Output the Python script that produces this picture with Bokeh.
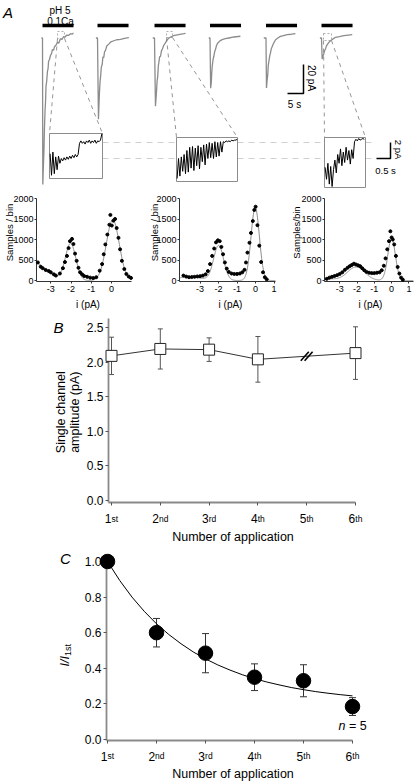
import math
import numpy as np
from bokeh.plotting import figure
from bokeh.models import (Range1d, FixedTicker, PrintfTickFormatter,
                          Whisker, ColumnDataSource, TeeHead)
from bokeh.core.properties import value
from bokeh.layouts import column, row
from bokeh.embed import file_html
from bokeh.resources import INLINE

FONT = "Liberation Sans"

# ===================== DATA =====================
# Panel A: whole-cell currents, 6 successive applications of pH 5 / 0.1Ca
application_s = 9.7
tr1_t = [-0.35, 0.0, 0.1, 0.25, 0.45, 0.6, 0.8, 0.95, 1.1, 1.3, 1.55, 1.75, 1.9, 2.15, 2.5, 2.8, 3.1, 3.45, 3.75, 4.2, 4.7, 5.1, 5.6, 6.1, 6.6, 7.0, 7.5, 8.1, 8.75, 9.2, 9.7]
tr1_i = [0, 0, -101, -90, -78, -63, -50, -44, -33, -30, -23, -21, -16, -15, -12, -11, -8, -8.5, -6, -5, -3, -3.5, -0.5, -1, 1, 0.5, 2, 1.8, 3, 2.6, 3.5]
tr2_t = [-0.5, 0.0, 0.3, 0.6, 0.8, 0.95, 1.2, 1.45, 1.7, 1.95, 2.2, 2.5, 2.9, 3.5, 4.2, 5.1, 6.0, 7.2, 8.4, 9.8]
tr2_i = [0, 0, -56, -38, -30, -27, -20, -18.5, -13, -13.5, -9.5, -8.5, -5.5, -4.2, -2.6, -1.9, -1.2, -0.9, -0.3, 0.3]
tr3_t = [-0.55, 0.0, 0.3, 0.6, 0.8, 1.0, 1.2, 1.35, 1.6, 1.9, 2.15, 2.4, 2.9, 3.4, 3.9, 4.5, 5.2, 6.0, 7.5, 9.2, 9.7]
tr3_i = [0, 0, -47, -38, -30, -26.6, -19, -17.2, -13, -12.6, -9, -8, -5, -3.4, -1.5, 0, 0.8, 1.7, 2.4, 3.0, 3.2]
tr4_t = [-0.4, 0.0, 0.2, 0.4, 0.55, 0.7, 0.95, 1.2, 1.45, 1.7, 2.05, 2.45, 3.1, 3.8, 4.8, 5.9, 7.5, 9.5]
tr4_i = [0, 0, -34.6, -31, -24, -19.5, -15, -12.6, -9.5, -8, -5, -3.4, -2, -1.1, -0.5, 0, 0.7, 1.2]
tr5_t = [-0.7, 0.0, 0.15, 0.35, 0.55, 0.7, 0.9, 1.15, 1.4, 1.65, 1.95, 2.4, 3.0, 3.7, 4.5, 5.5, 6.6, 8.0, 9.2]
tr5_i = [0, 0, -34.5, -29, -25.3, -19, -16.1, -12.5, -10.3, -7.5, -5.8, -3.5, -1.2, 0, 1.1, 1.7, 2.3, 2.6, 3.0]
tr6_t = [-0.5, 0.0, 0.2, 0.45, 0.7, 1.0, 1.25, 1.5, 1.8, 2.3, 2.8, 3.5, 4.4, 5.6, 7.0, 8.3, 9.6]
tr6_i = [0, 0, -14.5, -12.5, -11, -8.5, -7.6, -5.8, -4.6, -3, -1.9, -0.8, 0.5, 1.0, 1.6, 2.0, 2.3]

# expanded single-channel segments (pA), sampled every inset_dt seconds
inset_dt = 0.05
unitary_pA = 2.0
inset1_i = [-1.4, -4.1, -1.2, -3.9, -1.8, -3.4, -1.7,
            -2.6, -2.0, -2.3, -1.9, -2.2, -1.8, -2.1, -1.7, -2.0, -1.6, -1.9, -1.5, -1.8, -1.5,
            -0.1, 0.2, -0.1, 0.1, -0.2, 0.2, 0.0, 0.3, -0.1, 0.2, 0.0, 0.3, -0.1, 0.2, 0.1, 0.3, 1.1]
inset2_i = [-4.5, -2.0, -4.2, -1.8, -3.6, -1.5, -3.9,
            -1.0, -3.7, -0.6, -3.2, -0.5, -3.5, -0.7, -2.9, -0.4, -3.3, -0.6, -2.4, -0.3, -2.8,
            -0.2, -2.0, 0.0, -1.9, -0.1, -2.0, 0.1, -1.8, 0.0, -1.7, 0.1, -1.2, 0.1,
            0.0, 0.2, 0.1, 0.2, 0.1, 0.3, 0.2, 0.3, 0.3, 0.4]
inset3_i = [-3.1, -4.6, -2.6, -5.2, -3.0, -5.5, -3.4,
            -2.2, -3.8, -1.5,
            -2.6, -0.8, -2.9, -1.2, -2.5, -0.6, -2.2, -1.0, -2.7, -0.9, -2.0,
            0.1, 0.4, 0.2, 0.5, 0.3, 0.4, 0.5, 0.4]

# all-point amplitude histograms (i in pA, samples per bin)
h1_x = [-3.64, -3.5, -3.4, -3.25, -3.1, -3.0, -2.85, -2.75, -2.55, -2.4, -2.3, -2.2, -2.12, -2.05, -1.95, -1.88, -1.8, -1.72, -1.63, -1.55, -1.45, -1.35, -1.2, -1.05, -0.9, -0.75, -0.58, -0.46, -0.38, -0.3, -0.2, -0.1, -0.05, 0.02, 0.1, 0.18, 0.26, 0.35, 0.43, 0.52, 0.64, 0.74, 0.86, 0.97]
h1_y = [440, 336, 300, 256, 230, 200, 150, 120, 170, 300, 450, 600, 790, 960, 1015, 890, 656, 480, 310, 200, 150, 110, 90, 70, 60, 80, 240, 400, 640, 880, 1120, 1360, 1600, 1340, 1460, 1500, 1280, 1040, 760, 480, 280, 160, 96, 64]
h2_x = [-3.9, -3.75, -3.6, -3.45, -3.3, -3.15, -3.0, -2.85, -2.7, -2.58, -2.46, -2.35, -2.24, -2.14, -2.04, -1.94, -1.85, -1.76, -1.66, -1.56, -1.45, -1.3, -1.15, -1.0, -0.85, -0.72, -0.6, -0.52, -0.44, -0.33, -0.25, -0.15, -0.07, 0.0, 0.1, 0.2, 0.3, 0.4, 0.5, 0.6]
h2_y = [120, 95, 80, 85, 90, 100, 105, 120, 150, 230, 400, 600, 780, 930, 980, 960, 820, 640, 440, 290, 210, 170, 160, 160, 170, 200, 260, 440, 680, 920, 1160, 1450, 1720, 1800, 1350, 850, 450, 200, 80, 30]
h3_x = [-3.75, -3.6, -3.45, -3.3, -3.15, -3.0, -2.85, -2.7, -2.55, -2.42, -2.3, -2.18, -2.06, -1.94, -1.82, -1.7, -1.58, -1.45, -1.3, -1.15, -1.0, -0.85, -0.7, -0.57, -0.45, -0.35, -0.25, -0.15, -0.07, 0.0, 0.07, 0.15, 0.25, 0.35, 0.45, 0.55, 0.65]
h3_y = [40, 70, 90, 110, 130, 160, 200, 260, 310, 350, 380, 410, 390, 370, 350, 300, 250, 210, 190, 180, 180, 190, 200, 250, 360, 540, 760, 960, 1200, 1050, 1000, 880, 600, 330, 170, 70, 20]
# Gaussian fit components (mean pA, sd pA, amplitude)
h1_fit = [(-4.0, 0.7, 480), (-2.02, 0.255, 900), (0.07, 0.32, 1480)]
h2_fit = [(-3.6, 0.7, 85), (-2.0, 0.27, 850), (-0.02, 0.225, 1780)]
h3_fit = [(-3.8, 0.6, 40), (-2.05, 0.5, 330), (0.0, 0.22, 1020)]

# Panel B: single channel amplitude
app_labels = ["1st", "2nd", "3rd", "4th", "5th", "6th"]
b_app = [1, 2, 3, 4, 6]
b_mean = [2.09, 2.19, 2.18, 2.04, 2.13]
b_sem = [0.27, 0.29, 0.17, 0.33, 0.38]

# Panel C: I / I1st
c_app = [1, 2, 3, 4, 5, 6]
c_mean = [1.0, 0.60, 0.485, 0.35, 0.33, 0.185]
c_sem = [0.0, 0.08, 0.11, 0.075, 0.09, 0.05]
c_fit_x = [1.0, 1.25, 1.5, 1.75, 2.0, 2.25, 2.5, 2.75, 3.0, 3.25, 3.5, 3.75, 4.0, 4.25, 4.5, 4.75, 5.0, 5.25, 5.5, 5.75, 6.0]
c_fit_y = [1.0, 0.893, 0.8, 0.72, 0.65, 0.59, 0.538, 0.492, 0.453, 0.419, 0.39, 0.364, 0.342, 0.323, 0.307, 0.292, 0.28, 0.269, 0.26, 0.252, 0.245]

# ===================== LAYOUT =====================
W, H = 420, 782
XB = [0, 140, 288, W]
YB = [0, 190, 312, 544, H]


def lin(r1, v1, r2, v2):
    k = (v2 - v1) / (r2 - r1)
    return lambda r: v1 + (r - r1) * k


def base_fig(px0, px1, py0, py1, frame, xmap, ymap):
    bl = max(0, round(frame[0] - px0))
    br = max(0, round(px1 - frame[1]))
    bt = max(0, round(frame[2] - py0))
    bb = max(0, round(py1 - frame[3]))
    fl, fr = px0 + bl, px1 - br
    ft, fb = py0 + bt, py1 - bb
    p = figure(width=px1 - px0, height=py1 - py0, output_backend="svg",
               toolbar_location=None, title=None,
               x_range=Range1d(xmap(fl), xmap(fr)), y_range=Range1d(ymap(fb), ymap(ft)),
               min_border_left=bl, min_border_right=br, min_border_top=bt,
               min_border_bottom=bb)
    p.frame_align = False
    p.xgrid.visible = False
    p.ygrid.visible = False
    p.outline_line_color = None
    p.background_fill_color = "white"
    p.border_fill_color = "white"
    return p


def lab(p, x, y, text, size, angle=0.0, align="center", baseline="alphabetic",
        style="normal", x_offset=0.0):
    p.text(x=[x], y=[y], text=[text], angle=angle, text_font=value(FONT),
           text_font_size=value(f"{size}px"), text_font_style=style,
           text_align=align, text_baseline=baseline, x_offset=x_offset,
           text_color="black", level="overlay")


# ---------------- Panel A (traces, in reference-pixel space) ----------------
TR_X = [42, 97, 154, 209.5, 265.5, 321]
TR_BASE_Y = 37.5
PX_PER_S, PX_PER_PA = 3.2, 1.45
BAR_Y = 25
INSETS = [(49, 133, 102, 178), (176, 137, 237, 181), (324, 137, 365, 187)]
ZOOMS = [(57, 31, 64, 38), (166, 31, 172, 37), (323, 33, 331, 40)]
LEVEL0_Y = 142
INSET_PX_PER_S, INSET_PX_PER_PA = 28, 8

pa = figure(width=W, height=YB[1], output_backend="svg", toolbar_location=None,
            title=None, x_range=Range1d(0, W), y_range=Range1d(YB[1], 0),
            min_border=0, min_border_left=0, min_border_right=0, min_border_top=0,
            min_border_bottom=0, x_axis_location=None, y_axis_location=None)
pa.frame_align = False
pa.xgrid.visible = False
pa.ygrid.visible = False
pa.outline_line_color = None

traces = [(tr1_t, tr1_i), (tr2_t, tr2_i), (tr3_t, tr3_i),
          (tr4_t, tr4_i), (tr5_t, tr5_i), (tr6_t, tr6_i)]
for ox, (tt, ii) in zip(TR_X, traces):
    xs = [ox + t * PX_PER_S for t in tt]
    ys = [TR_BASE_Y - v * PX_PER_PA for v in ii]
    pa.line(xs, ys, line_color="#8c8c8c", line_width=1.3)
    pa.segment(x0=[ox], y0=[BAR_Y], x1=[ox + application_s * PX_PER_S], y1=[BAR_Y],
               line_color="black", line_width=3.5, line_cap="butt")

for (zl, zt, zr, zb), (il, it, ir, ib) in zip(ZOOMS, INSETS):
    pa.quad(left=[zl], right=[zr], top=[zt], bottom=[zb], fill_color=None,
            line_color="#9a9a9a", line_width=0.8, line_dash="2 2")
    pa.segment(x0=[zl, zr], y0=[zb, zb], x1=[il, ir], y1=[it, it],
               line_color="#7a7a7a", line_width=0.8, line_dash="4 4")

lvl_y = [LEVEL0_Y, LEVEL0_Y + unitary_pA * INSET_PX_PER_PA]
gaps = [(INSETS[0][2], INSETS[1][0]), (INSETS[1][2], INSETS[2][0]), (INSETS[2][2], 372)]
for yv in lvl_y:
    pa.segment(x0=[g[0] for g in gaps], y0=[yv] * 3, x1=[g[1] for g in gaps], y1=[yv] * 3,
               line_color="#c4c4c4", line_width=0.8, line_dash="6 5")

for (il, it, ir, ib), ii in zip(INSETS, [inset1_i, inset2_i, inset3_i]):
    pa.quad(left=[il], right=[ir], top=[it], bottom=[ib], fill_color=None,
            line_color="#8c8c8c", line_width=1)
    xs = [il + 0.6 + k * inset_dt * INSET_PX_PER_S for k in range(len(ii))]
    ys = [LEVEL0_Y - v * INSET_PX_PER_PA for v in ii]
    pa.line(xs, ys, line_color="black", line_width=1)

SB1 = (303, 93)
pa.line([SB1[0] - 5 * PX_PER_S, SB1[0], SB1[0]], [SB1[1], SB1[1], SB1[1] - 20 * PX_PER_PA],
        line_color="black", line_width=1.5)
SB2 = (390, 158)
pa.line([SB2[0] - 0.5 * INSET_PX_PER_S, SB2[0], SB2[0]],
        [SB2[1], SB2[1], SB2[1] - 2 * INSET_PX_PER_PA], line_color="black", line_width=1.5)

lab(pa, 2.5, 12.3, "A", 15, style="italic", align="left")
lab(pa, 59.5, 10, "pH 5", 10)
lab(pa, 60, 21, "0.1Ca", 10)
lab(pa, 310.5, 77.5, "20 pA", 10, angle=-math.pi / 2, baseline="middle")
lab(pa, 294, 104, "5 s", 10)
lab(pa, 397.5, 149, "2 pA", 9.5, angle=-math.pi / 2, baseline="middle")
lab(pa, 385, 170, "0.5 s", 9.5)

# ---------------- histograms ----------------
hist_specs = [
    (XB[0], XB[1], (36, 131, 198, 281), lin(90.7, -1, 110.9, 0), h1_x, h1_y, h1_fit,
     "Samples / bin", 8.5, 87.5),
    (XB[1], XB[2], (179, 275, 198, 281), lin(236.6, -1, 255.1, 0), h2_x, h2_y, h2_fit,
     "Samples / bin", 154, 230),
    (XB[2], XB[3], (324.3, 413, 198, 281), lin(373.8, -1, 391.1, 0), h3_x, h3_y, h3_fit,
     "Samples/bin", 296, 370),
]
hists = []
for px0, px1, frame, xm, hx, hy, fit, ylab, ylab_x, xlab_x in hist_specs:
    ym = lin(280, 0, 198, 2000)
    p = base_fig(px0, px1, YB[1], YB[2], frame, xm, ym)
    xf = np.linspace(p.x_range.start, p.x_range.end, 300)
    yf = sum(a * np.exp(-0.5 * ((xf - m) / s) ** 2) for m, s, a in fit)
    p.line(xf, yf, line_color="#8c8c8c", line_width=1)
    p.scatter(hx, hy, size=3, marker="circle", fill_color="black", line_color="black",
              level="overlay")
    p.xaxis.ticker = FixedTicker(ticks=[-3, -2, -1, 0, 1])
    p.yaxis.ticker = FixedTicker(ticks=[0, 500, 1000, 1500, 2000])
    p.xaxis.formatter = PrintfTickFormatter(format="%d")
    p.yaxis.formatter = PrintfTickFormatter(format="%d")
    for ax in (p.xaxis[0], p.yaxis[0]):
        ax.major_label_text_font = FONT
        ax.major_label_text_font_size = "9px"
        ax.major_label_text_color = "black"
        ax.major_tick_out = 2
        ax.major_tick_in = 0
        ax.minor_tick_out = 0
        ax.minor_tick_in = 0
        ax.axis_line_color = "#333333"
        ax.major_tick_line_color = "#333333"
    p.yaxis.major_label_standoff = 1
    p.xaxis.major_label_standoff = 2
    lab(p, xm(ylab_x), ym(232), ylab, 9.5, angle=math.pi / 2)
    lab(p, xm(xlab_x), ym(303.5), "i (pA)", 10)
    hists.append(p)

# ---------------- Panel B ----------------
suffix_w = {"st": 6.6, "nd": 9.5, "rd": 7.6, "th": 7.1}
DIGIT_W = 6.7


def app_ticks(p, ym, base_ref):
    for v, t in zip(range(1, 7), app_labels):
        w = DIGIT_W + suffix_w[t[1:]]
        lab(p, v, ym(base_ref), t[0], 12, align="left", x_offset=-w / 2)
        lab(p, v, ym(base_ref), t[1:], 8.5, align="left", x_offset=-w / 2 + DIGIT_W)


def style_axes(p):
    for ax in (p.xaxis[0], p.yaxis[0]):
        ax.major_label_text_font = FONT
        ax.major_label_text_font_size = "12px"
        ax.major_label_text_color = "black"
        ax.major_tick_out = 3
        ax.major_tick_in = 0
        ax.minor_tick_out = 0
        ax.minor_tick_in = 0
        ax.axis_line_color = "#8a8a8a"
        ax.axis_line_width = 1.8
        ax.major_tick_line_color = "#555555"
    p.yaxis.major_label_standoff = 2
    p.xaxis.ticker = FixedTicker(ticks=list(range(1, 7)))
    p.xaxis.major_label_overrides = {i: "" for i in range(1, 7)}
    p.yaxis.formatter = PrintfTickFormatter(format="%.1f")


bx = lin(111, 1, 355, 6)
by = lin(500, 0, 327, 2.5)
pb = base_fig(0, W, YB[2], YB[3], (108, 362, 318, 502), bx, by)
style_axes(pb)
pb.yaxis.ticker = FixedTicker(ticks=[0, 0.5, 1.0, 1.5, 2.0, 2.5])
pb.xaxis.bounds = (pb.x_range.start, 6)

bsrc = ColumnDataSource(dict(x=b_app, up=[m + s for m, s in zip(b_mean, b_sem)],
                             lo=[m - s for m, s in zip(b_mean, b_sem)]))
pb.add_layout(Whisker(base="x", upper="up", lower="lo", source=bsrc, dimension="height",
                      line_color="#555555", line_width=1,
                      upper_head=TeeHead(size=5, line_color="#555555", line_width=1),
                      lower_head=TeeHead(size=5, line_color="#555555", line_width=1)))
pb.line(b_app, b_mean, line_color="#333333", line_width=1)
kx = (bx(355) - bx(111)) / (355 - 111)
ky = (by(327) - by(500)) / (500 - 327)
cy5 = float(np.interp(5, b_app, b_mean))
sl_x0, sl_x1, sl_y0, sl_y1 = [], [], [], []
for dx in (-1.9, 1.9):
    sl_x0.append(5 + (dx - 4) * kx)
    sl_x1.append(5 + (dx + 4) * kx)
    sl_y0.append(cy5 - 4.5 * ky)
    sl_y1.append(cy5 + 4.5 * ky)
pb.segment(x0=sl_x0, y0=sl_y0, x1=sl_x1, y1=sl_y1, line_color="black", line_width=1.6)
pb.scatter(b_app, b_mean, marker="square", size=11, fill_color="white",
           line_color="#222222", line_width=1, level="overlay")
app_ticks(pb, by, 518.3)
lab(pb, bx(232.5), by(536.3), "Number of application", 12.5)
lab(pb, bx(60.7), by(411.7), "Single channel", 12.5, angle=math.pi / 2)
lab(pb, bx(74), by(411.7), "amplitude (pA)", 12.5, angle=math.pi / 2)
lab(pb, bx(53), by(326.7), "B", 15, style="italic", align="left")

# ---------------- Panel C ----------------
cx = lin(107, 1, 352, 6)
cyf = lin(739, 0, 561, 1.0)
pc = base_fig(0, W, YB[3], YB[4], (106, 362, 551, 740), cx, cyf)
style_axes(pc)
pc.yaxis.ticker = FixedTicker(ticks=[0, 0.2, 0.4, 0.6, 0.8, 1.0])
pc.xaxis.bounds = (pc.x_range.start, 6)
pc.yaxis.bounds = (pc.y_range.start, 1.0)

sel = [k for k, s in enumerate(c_sem) if s > 0]
csrc = ColumnDataSource(dict(x=[c_app[k] for k in sel],
                             up=[c_mean[k] + c_sem[k] for k in sel],
                             lo=[c_mean[k] - c_sem[k] for k in sel]))
pc.add_layout(Whisker(base="x", upper="up", lower="lo", source=csrc, dimension="height",
                      line_color="#333333", line_width=1,
                      upper_head=TeeHead(size=7, line_color="#333333", line_width=1),
                      lower_head=TeeHead(size=7, line_color="#333333", line_width=1)))
pc.line(c_fit_x, c_fit_y, line_color="black", line_width=1)
pc.scatter(c_app, c_mean, marker="circle", size=14.5, fill_color="black",
           line_color="black", level="overlay")
app_ticks(pc, cyf, 755.5)
lab(pc, cx(232.5), cyf(773.5), "Number of application", 12.5)
lab(pc, cx(59.5), cyf(558), "C", 15, style="italic", align="left")
lab(pc, cx(338), cyf(725), "n", 12.5, style="italic", align="left")
lab(pc, cx(338), cyf(725), "= 5", 12.5, align="left", x_offset=10.5)
lab(pc, cx(64), cyf(666), "I/I", 12.5, style="italic", align="left", angle=math.pi / 2)
lab(pc, cx(67.5), cyf(655.6), "1st", 9, align="left", angle=math.pi / 2)

layout = column(pa, row(*hists), pb, pc)
open("out.html", "w").write(file_html(layout, INLINE))
